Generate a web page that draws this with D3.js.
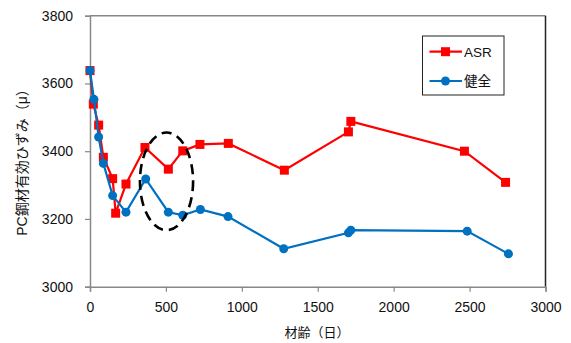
<!DOCTYPE html>
<html>
<head>
<meta charset="utf-8">
<script src="https://cdn.jsdelivr.net/npm/d3@7"></script>
<style>
body{margin:0;background:#fff;}
text{font-family:"Liberation Sans","Noto Sans CJK JP",sans-serif;}
</style>
</head>
<body>
<svg id="chart" width="571" height="343"></svg>
<script>
const asrDays   = [0, 22, 57, 88, 149, 169, 237, 362, 516, 611, 724, 911, 1280, 1702, 1718, 2466, 2737];
const asrValues = [3638, 3539, 3477, 3382, 3319, 3217, 3303, 3411, 3347, 3401, 3420, 3423, 3344, 3457, 3488, 3400, 3308];
const kenDays   = [0, 26, 57, 88, 149, 237, 367, 516, 611, 727, 909, 1276, 1702, 1718, 2484, 2756];
const kenValues = [3638, 3553, 3442, 3364, 3269, 3220, 3318, 3220, 3211, 3228, 3207, 3112, 3159, 3167, 3164, 3097];
const xTicks = [0, 500, 1000, 1500, 2000, 2500, 3000];
const yTicks = [3000, 3200, 3400, 3600, 3800];
const seriesNames = ["ASR", "健全"];
const ellipseCenter = [504, 3311];
const ellipseRadii = [175, 144];

const svg = d3.select("#chart");
const m = {left: 90, right: 545.5, top: 15.7, bottom: 286.7};
const x = d3.scaleLinear().domain([0, 3000]).range([m.left, m.right]);
const y = d3.scaleLinear().domain([3000, 3800]).range([m.bottom, m.top]);

// borders
svg.append("line").attr("x1", m.left).attr("x2", m.right).attr("y1", m.top).attr("y2", m.top)
  .attr("stroke", "#888").attr("stroke-width", 1.5);
svg.append("line").attr("x1", m.right).attr("x2", m.right).attr("y1", m.top).attr("y2", m.bottom)
  .attr("stroke", "#222").attr("stroke-width", 1.5);

const xAxis = svg.append("g").attr("transform", `translate(0,${m.bottom})`)
  .call(d3.axisBottom(x).tickValues(xTicks).tickSize(5).tickPadding(10).tickFormat(d3.format("d")));
const yAxis = svg.append("g").attr("transform", `translate(${m.left},0)`)
  .call(d3.axisLeft(y).tickValues(yTicks).tickSize(5).tickPadding(12).tickFormat(d3.format("d")));
[xAxis, yAxis].forEach(a => {
  a.select(".domain").attr("stroke", "#888").attr("stroke-width", 1.5);
  a.selectAll(".tick line").attr("stroke", "#888").attr("stroke-width", 1.2);
  a.selectAll("text").attr("font-size", 14).attr("fill", "#111")
    .attr("font-family", "'Liberation Sans','Noto Sans CJK JP',sans-serif");
});

// titles
svg.append("text").attr("x", 317).attr("y", 337).attr("text-anchor", "middle")
  .attr("font-size", 13).attr("fill", "#111").text("材齢（日）");
svg.append("text").attr("transform", "translate(27,159) rotate(-90)").attr("text-anchor", "middle")
  .attr("font-size", 14).attr("fill", "#111").text("PC鋼材有効ひずみ（μ）");

const line = d3.line().x(d => x(d[0])).y(d => y(d[1]));
const asr = asrDays.map((d, i) => [d, asrValues[i]]);
const ken = kenDays.map((d, i) => [d, kenValues[i]]);

svg.append("path").datum(asr).attr("d", line).attr("fill", "none").attr("stroke", "#ff0000").attr("stroke-width", 2.2);
svg.selectAll(".sq").data(asr).enter().append("rect")
  .attr("x", d => x(d[0]) - 4.5).attr("y", d => y(d[1]) - 4.5).attr("width", 9).attr("height", 9).attr("fill", "#ff0000");

svg.append("path").datum(ken).attr("d", line).attr("fill", "none").attr("stroke", "#0070c0").attr("stroke-width", 2.2);
svg.selectAll(".dot").data(ken).enter().append("circle")
  .attr("cx", d => x(d[0])).attr("cy", d => y(d[1])).attr("r", 4.5).attr("fill", "#0070c0");

// ellipse
const ecx = x(ellipseCenter[0]), ecy = y(ellipseCenter[1]);
svg.append("ellipse").attr("cx", ecx).attr("cy", ecy)
  .attr("rx", x(ellipseCenter[0] + ellipseRadii[0]) - ecx)
  .attr("ry", ecy - y(ellipseCenter[1] + ellipseRadii[1]))
  .attr("fill", "none").attr("stroke", "#000").attr("stroke-width", 2.6).attr("stroke-dasharray", "10,6");

// legend
const lg = svg.append("g");
lg.append("rect").attr("x", 422.5).attr("y", 36).attr("width", 81.5).attr("height", 59)
  .attr("fill", "#fff").attr("stroke", "#222").attr("stroke-width", 1);
const legendRows = [{n: seriesNames[0], c: "#ff0000", t: "sq", yy: 51.7}, {n: seriesNames[1], c: "#0070c0", t: "dot", yy: 81}];
legendRows.forEach(r => {
  lg.append("line").attr("x1", 429.5).attr("x2", 462).attr("y1", r.yy).attr("y2", r.yy).attr("stroke", r.c).attr("stroke-width", 2.2);
  if (r.t === "sq") lg.append("rect").attr("x", 445.5 - 4.5).attr("y", r.yy - 4.5).attr("width", 9).attr("height", 9).attr("fill", r.c);
  else lg.append("circle").attr("cx", 445.5).attr("cy", r.yy).attr("r", 4.5).attr("fill", r.c);
  lg.append("text").attr("x", 464).attr("y", r.yy + 5).attr("font-size", 13.5).attr("fill", "#111").text(r.n);
});
</script>
</body>
</html>
